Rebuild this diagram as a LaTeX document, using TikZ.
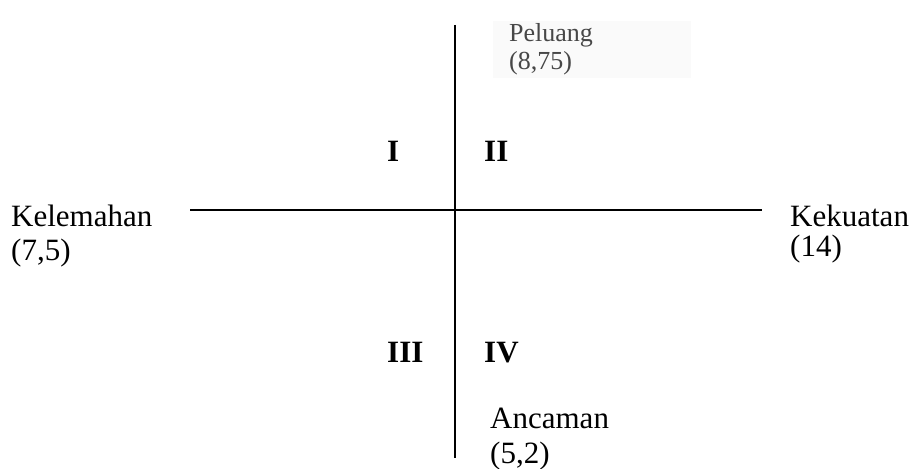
\documentclass[tikz,border=0pt]{standalone}
\usepackage{fontspec}
\setmainfont{Liberation Serif}
\begin{document}
\begin{tikzpicture}[x=1pt,y=-1pt,
  lbl/.style={anchor=base west,inner sep=0pt,font=\fontsize{31}{36}\selectfont},
  small/.style={anchor=base west,inner sep=0pt,font=\fontsize{26}{30}\selectfont,text=black!72},
  quad/.style={anchor=base west,inner sep=0pt,font=\fontsize{31}{36}\selectfont\bfseries},
  axis/.style={line width=1.7pt}]
\useasboundingbox (0,0) rectangle (917,468);
\fill[black!2] (493,21) rectangle (691,78);
\coordinate (top) at (455,25);
\coordinate (bot) at (455,458);
\coordinate (left) at (190,210);
\coordinate (right) at (762,210);
\draw[axis] (top) -- (bot);
\draw[axis] (left) -- (right);
\node[small] (pel1) at (509,42) {Peluang};
\node[small] (pel2) at (509,70) {(8,75)};
\node[lbl] (kel1) at (11,226) {Kelemahan};
\node[lbl] (kel2) at (11,260) {(7,5)};
\node[lbl] (kek1) at (790,226) {Kekuatan};
\node[lbl] (kek2) at (790,256) {(14)};
\node[lbl] (anc1) at (490,428) {Ancaman};
\node[lbl] (anc2) at (490,463) {(5,2)};
\node[quad] (q1) at (387,161) {I};
\node[quad] (q2) at (484,161) {II};
\node[quad] (q3) at (387,362) {III};
\node[quad] (q4) at (484,362) {IV};
\end{tikzpicture}
\end{document}
